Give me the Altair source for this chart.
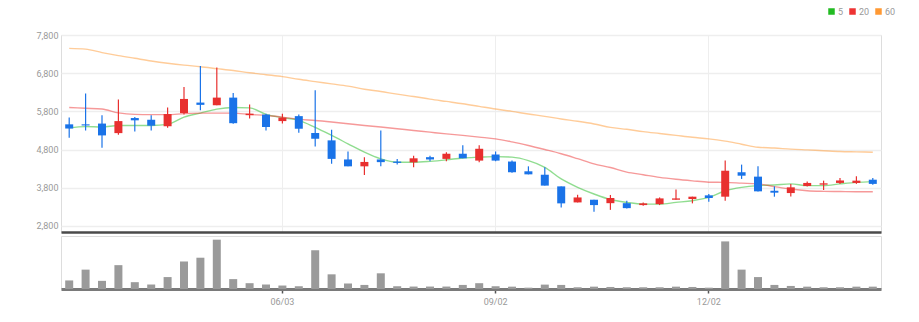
import altair as alt
import pandas as pd

dates = ["03/04", "03/11", "03/18", "03/25", "04/01", "04/08", "04/15", "04/22", "04/29", "05/06",
         "05/13", "05/20", "05/27", "06/03", "06/10", "06/17", "06/24", "07/01", "07/08", "07/15",
         "07/22", "07/29", "08/05", "08/12", "08/19", "08/26", "09/02", "09/09", "09/16", "09/23",
         "09/30", "10/07", "10/14", "10/21", "10/28", "11/04", "11/11", "11/18", "11/25", "12/02",
         "12/09", "12/16", "12/23", "12/30", "01/06", "01/13", "01/20", "01/27", "02/03", "02/10"]

opens = [5460, 5460, 5480, 5230, 5625, 5580, 5410, 5755, 6030, 5960,
         6160, 5700, 5715, 5545, 5675, 5230, 5040, 4540, 4360, 4540,
         4485, 4465, 4600, 4555, 4690, 4510, 4670, 4485, 4230, 4140,
         3835, 3415, 3485, 3395, 3395, 3345, 3370, 3485, 3505, 3600,
         3565, 4205, 4090, 3720, 3660, 3845, 3880, 3925, 3925, 4010]
closes = [5350, 5430, 5170, 5545, 5565, 5425, 5730, 6125, 5970, 6160,
          5490, 5740, 5390, 5635, 5345, 5080, 4555, 4360, 4475, 4470,
          4450, 4570, 4540, 4690, 4570, 4820, 4510, 4205, 4150, 3855,
          3390, 3545, 3345, 3530, 3265, 3390, 3520, 3520, 3565, 3530,
          4245, 4115, 3705, 3670, 3810, 3925, 3915, 3990, 3985, 3900]
highs = [5640, 6270, 5700, 6110, 5650, 5700, 5900, 6440, 6990, 6950,
         6280, 5980, 5740, 5740, 5715, 6350, 5320, 4750, 4600, 5300,
         4555, 4640, 4640, 4730, 4910, 4910, 4750, 4510, 4360, 4335,
         3835, 3615, 3485, 3610, 3460, 3415, 3545, 3750, 3565, 3635,
         4510, 4405, 4360, 3835, 3900, 3960, 3985, 4055, 4100, 4055]
lows = [5110, 5300, 4850, 5190, 5275, 5300, 5370, 5720, 5830, 5960,
        5475, 5610, 5300, 5480, 5240, 4880, 4425, 4360, 4135, 4360,
        4405, 4335, 4490, 4490, 4570, 4465, 4490, 4190, 4150, 3855,
        3280, 3415, 3170, 3220, 3255, 3330, 3345, 3485, 3390, 3430,
        3460, 4030, 3700, 3565, 3570, 3835, 3740, 3900, 3900, 3880]
ma5 = [5370, 5400, 5390, 5430, 5430, 5430, 5460, 5650, 5755, 5860,
       5900, 5890, 5720, 5635, 5565, 5380, 5170, 4950, 4730, 4555,
       4467, 4467, 4490, 4530, 4580, 4600, 4615, 4600, 4510, 4335,
       4030, 3810, 3635, 3490, 3415, 3370, 3370, 3415, 3460, 3545,
       3720, 3810, 3855, 3870, 3900, 3855, 3855, 3900, 3940, 3960]
ma20 = [5900, 5880, 5860, 5760, 5720, 5715, 5715, 5740, 5755, 5755,
        5755, 5720, 5690, 5650, 5590, 5560, 5520, 5475, 5430, 5390,
        5345, 5300, 5255, 5210, 5170, 5125, 5080, 5000, 4905, 4800,
        4690, 4560, 4425, 4330, 4210, 4140, 4070, 4020, 3980, 3945,
        3940, 3920, 3900, 3830, 3765, 3720, 3705, 3700, 3695, 3695]
ma60 = [7450, 7430, 7340, 7260, 7190, 7120, 7060, 7010, 6970, 6920,
        6870, 6810, 6760, 6710, 6640, 6580, 6520, 6460, 6380, 6320,
        6250, 6190, 6120, 6060, 6000, 5930, 5860, 5800, 5730, 5670,
        5600, 5540, 5470, 5380, 5330, 5270, 5220, 5170, 5120, 5080,
        5020, 4940, 4860, 4840, 4810, 4790, 4770, 4750, 4740, 4730]
volumes = [8400, 19000, 8000, 23400, 6700, 4400, 11700, 27000, 30700, 48400,
           9700, 5700, 4400, 3400, 2700, 38000, 14400, 5400, 4000, 15400,
           2700, 2400, 2400, 2400, 4000, 5700, 2700, 2300, 1300, 4300,
           4000, 1700, 2300, 2000, 1700, 1700, 1700, 2300, 2000, 1300,
           46700, 19000, 11700, 4000, 3000, 2300, 1700, 1700, 2300, 2300]
tick_dates = ["06/03", "09/02", "12/02"]
price_ticks = [2800, 3800, 4800, 5800, 6800, 7800]
ma_names = ["5", "20", "60"]
ma_colors = ["#22bb22", "#ee3333", "#ff9933"]
up_color = "#e8302f"
down_color = "#1a73e8"

df = pd.DataFrame({"date": dates, "open": opens, "close": closes, "high": highs,
                   "low": lows, "volume": volumes})
ma_df = pd.concat([
    pd.DataFrame({"date": dates, "ma": name, "value": vals})
    for name, vals in zip(ma_names, [ma5, ma20, ma60])
])

FONT = "Liberation Sans Narrow, Roboto, sans-serif"
AXW = 30

xscale = alt.Scale(type="band", paddingInner=0, paddingOuter=0)
xaxis_price = alt.Axis(values=tick_dates, labels=False, ticks=False, grid=True,
                       gridColor="#eeeeee", domainColor="#4a4a4a", domainWidth=2.5)
yscale = alt.Scale(domain=[2640, 7800], nice=False, zero=False)
yaxis_price = alt.Axis(values=price_ticks, labelExpr="format(datum.value, ',')",
                       grid=True, gridColor="#eeeeee",
                       gridWidth=1.5, domain=False, ticks=False, labelColor="#999999",
                       labelFontSize=9, labelFont=FONT, labelPadding=3,
                       minExtent=AXW, maxExtent=AXW)


def xenc():
    return alt.X("date:O", sort=dates, title=None, scale=xscale, axis=xaxis_price)


def yenc(field):
    return alt.Y(field, title=None, scale=yscale, axis=yaxis_price)


candle_color = alt.condition("datum.close >= datum.open", alt.value(up_color), alt.value(down_color))

lines = alt.Chart(ma_df).mark_line(strokeWidth=1.4, opacity=0.5, interpolate="monotone").encode(
    x=xenc(),
    y=yenc("value:Q"),
    color=alt.Color("ma:N", scale=alt.Scale(domain=ma_names, range=ma_colors),
                    legend=alt.Legend(title=None, orient="none", legendX=766, legendY=-28,
                                      direction="horizontal", symbolType="square",
                                      symbolSize=9, symbolOpacity=1, symbolStrokeWidth=3.5,
                                      labelFontSize=9, labelFont=FONT, labelColor="#999999",
                                      labelOffset=2, columnPadding=0, gridAlign="none",
                                      padding=0)),
)

wicks = alt.Chart(df).mark_rule(strokeWidth=1.2).encode(
    x=xenc(),
    y=yenc("low:Q"),
    y2="high:Q",
    color=candle_color,
)

bodies = alt.Chart(df).mark_bar(size=8).encode(
    x=xenc(),
    y=yenc("open:Q"),
    y2="close:Q",
    color=candle_color,
)

price = alt.layer(lines, wicks, bodies).properties(width=820, height=197)

volume = alt.Chart(df).mark_bar(size=8, color="#9a9a9a").encode(
    x=alt.X("date:O", sort=dates, title=None, scale=xscale,
            axis=alt.Axis(values=tick_dates, grid=False, domainColor="#7a7a7a", domainWidth=3,
                          tickColor="#555555", tickSize=4, tickWidth=1.5,
                          labelColor="#999999", labelFontSize=9, labelFont=FONT,
                          labelPadding=4, labelAngle=0)),
    y=alt.Y("volume:Q", scale=alt.Scale(domain=[0, 52000], nice=False), title=None,
            axis=alt.Axis(labels=False, ticks=False, domain=False, grid=False,
                          minExtent=AXW, maxExtent=AXW)),
).properties(width=820, height=53)

chart = alt.vconcat(price, volume, spacing=2).properties(
    padding={"left": 60 - AXW, "top": 7, "right": 10, "bottom": 0},
).configure_view(stroke=None).configure(background="white")

chart.save("out.html", embed_options={"renderer": "svg", "actions": False})
